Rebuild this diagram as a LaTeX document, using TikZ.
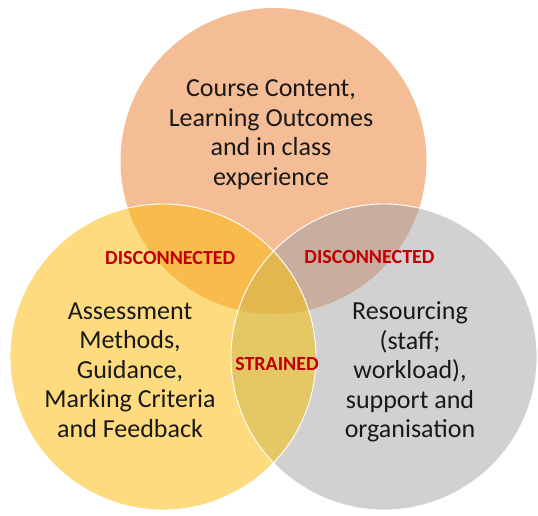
\documentclass[tikz,border=0pt]{standalone}
\usepackage{fontspec}
\setmainfont{Carlito}
% circle and overlap colours
\definecolor{topfill}{RGB}{245,189,150}
\definecolor{leftfill}{RGB}{254,219,127}
\definecolor{rightfill}{RGB}{209,209,209}
\definecolor{topleft}{RGB}{248,187,76}
\definecolor{topright}{RGB}{201,174,159}
\definecolor{leftright}{RGB}{228,200,102}
\definecolor{allthree}{RGB}{227,183,80}
\definecolor{tagred}{RGB}{192,0,0}
\begin{document}
\begin{tikzpicture}[x=1pt,y=-1pt,
  body/.style={align=center, font=\fontsize{26}{29.5}\selectfont, text=black!90, inner sep=0pt},
  tag/.style={font=\fontsize{20}{24}\selectfont\bfseries, text=tagred, inner sep=0pt, anchor=base},
  rim/.style={draw=white, line width=0.9pt}]
  \useasboundingbox (0,0) rectangle (538,516);
  \def\rad{153}
  \coordinate (T) at (273.5,161);
  \coordinate (L) at (163,357);
  \coordinate (R) at (384,357);
  % plain circles
  \fill[topfill] (T) circle (\rad);
  \fill[leftfill] (L) circle (\rad);
  \fill[rightfill] (R) circle (\rad);
  % pairwise overlaps
  \begin{scope}
    \clip (T) circle (\rad);
    \fill[topleft] (L) circle (\rad);
    \fill[topright] (R) circle (\rad);
  \end{scope}
  \begin{scope}
    \clip (L) circle (\rad);
    \fill[leftright] (R) circle (\rad);
  \end{scope}
  % centre overlap
  \begin{scope}
    \clip (T) circle (\rad);
    \clip (L) circle (\rad);
    \fill[allthree] (R) circle (\rad);
  \end{scope}
  % white rims of the two lower circles
  \draw[rim] (L) circle (\rad);
  \draw[rim] (R) circle (\rad);
  % texts
  \node[body] (course) at (271,134.5) {Course Content,\\Learning Outcomes\\and in class\\experience};
  \node[body] (assess) at (130,370) {Assessment\\Methods,\\Guidance,\\Marking Criteria\\and Feedback};
  \node[body] (resource) at (410,372) {Resourcing\\(staff;\\workload),\\support and\\organisation};
  \node[tag] (discA) at (170.3,264) {DISCONNECTED};
  \node[tag] (discB) at (369.5,263) {DISCONNECTED};
  \node[tag] (strained) at (277,370) {STRAINED};
\end{tikzpicture}
\end{document}
